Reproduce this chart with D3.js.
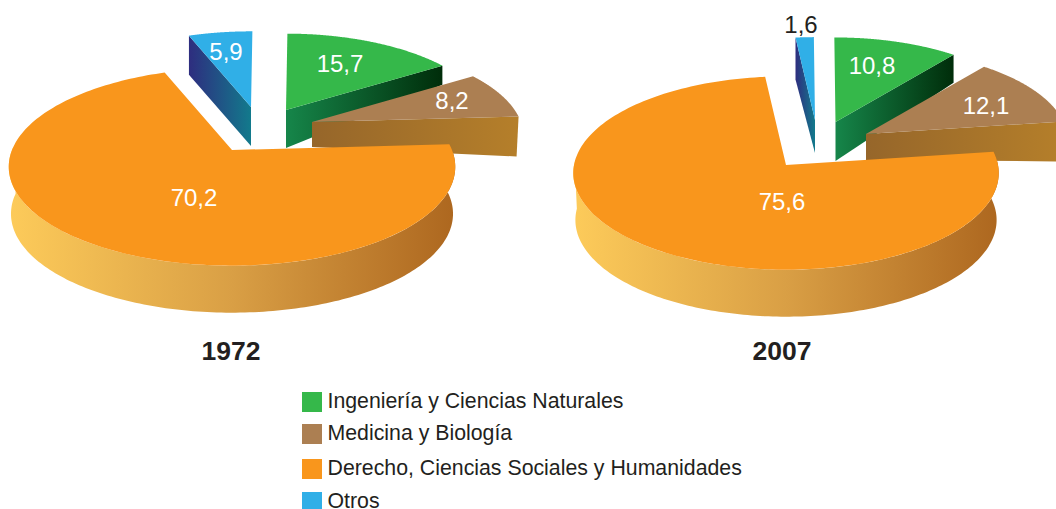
<!DOCTYPE html>
<html lang="es">
  <head>
    <meta charset="UTF-8" />
    <title>1972 - 2007</title>
    <script src="https://d3js.org/d3.v7.min.js"></script>
    <style>
      html, body {
        margin: 0;
        background: #fff;
        overflow: hidden;
      }
      svg {
        display: block;
        font-family: "Liberation Sans", Arial, sans-serif;
      }
      .value { font-size: 24px; text-anchor: middle; fill: #fff; }
      .year { font-size: 26.5px; font-weight: bold; text-anchor: middle; fill: #231f20; }
      .legend-label { font-size: 21.3px; fill: #231f20; }
    </style>
  </head>
  <body>
    <svg id="chart" width="1056" height="509"></svg>

    <script>
      const categories = [
        "Ingeniería y Ciencias Naturales",
        "Medicina y Biología",
        "Derecho, Ciencias Sociales y Humanidades",
        "Otros",
      ];
      const years = [1972, 2007];
      const values1972 = [15.7, 8.2, 70.2, 5.9];
      const values2007 = [10.8, 12.1, 75.6, 1.6];

      const colors = ["#35b84a", "#ac7f52", "#f9961c", "#30afe7"];
      // side faces, left to right
      const wallColors = [
        ["#16864a", "#002d0a"],
        ["#96662a", "#b57f2a"],
        ["#fdcb5a", "#d99f45", "#ad671f"],
        ["#2e2d7f", "#127a8c"],
      ];

      // the pie runs orange, blue, green, brown clockwise, painted back to front
      const pieOrder = [2, 3, 0, 1];
      const paintOrder = [3, 0, 1, 2];
      const rad = Math.PI / 180;

      // layout of each pie: apex, radii, perspective, start angle
      const layouts = [
        {
          values: values1972, cx: 232, cy: 150, R: 220, S: 96, k: 0.17, start: 86.5,
          yearX: 231, depth: 47,
          slices: {
            0: { dx: 54, dy: -40, r: 0.92, depth: [38, 19], label: [54, -46] },
            1: { dx: 80, dy: -28, r: 0.95, depth: [25, 40], inset: 2, label: [140, -21] },
            2: { dx: 0, dy: 0, r: 1, label: [-38, 48] },
            3: { dx: 19, dy: -43, r: 0.91, depth: [39, 39], label: [-25, -55] },
          },
        },
        {
          values: values2007, cx: 786, cy: 165, R: 212, S: 96, k: 0.083, start: 82,
          yearX: 782, depth: 47,
          slices: {
            0: { dx: 49.5, dy: -43, r: 0.95, depth: [39, 28], label: [36.5, -56] },
            1: { dx: 80, dy: -31, r: 0.95, depth: [26, 40], inset: 2, label: [120, -28] },
            2: { dx: 0, dy: 0, r: 1, label: [-4, 37] },
            3: { dx: 29, dy: -45, r: 0.93, depth: [33, 42], label: [-14, -95] },
          },
        },
      ];

      const svg = d3.select("#chart");
      const defs = svg.append("defs");
      const line = d3.line();

      function addGradient(id, stops) {
        const g = defs.append("linearGradient").attr("id", id);
        stops.forEach((c, i) => {
          g.append("stop")
            .attr("offset", i / (stops.length - 1))
            .attr("stop-color", c);
        });
      }
      wallColors.forEach((stops, i) => addGradient("wall" + i, stops));

      const pie = d3.pie().sort(null).value((d) => d);

      layouts.forEach((p) => {
        const ordered = pieOrder.map((i) => p.values[i]);
        const startAngle = p.start * rad;
        pie.startAngle(startAngle).endAngle(startAngle + 2 * Math.PI);
        const arcs = pie(ordered);

        // angle on the disc -> position on the page, relative to the apex
        const project = (angle, r) => {
          const u = r * Math.sin(angle);
          const v = -r * Math.cos(angle);
          const w = 1 - p.k * v;
          return [(p.R * u) / w, (p.S * v) / w];
        };

        const g = svg.append("g").attr("transform", `translate(${p.cx},${p.cy})`);

        paintOrder.forEach((cat) => {
          const a = arcs[pieOrder.indexOf(cat)];
          const s = p.slices[cat];
          const sg = g.append("g").attr("transform", `translate(${s.dx},${s.dy})`);
          const rim = d3
            .range(0, 181)
            .map((t) => project(a.startAngle + ((a.endAngle - a.startAngle) * t) / 180, s.r));

          if (cat === 2) {
            // curved front wall of the big slice
            const wallEnd = 272 * rad;
            const top = d3
              .range(0, 181)
              .map((t) => project(a.startAngle + ((wallEnd - a.startAngle) * t) / 180, 1));
            const bottom = top
              .map(([x, y]) => [x * 0.99, y + p.depth])
              .reverse();
            sg.append("path")
              .attr("d", line(top.concat(bottom)) + "Z")
              .attr("fill", `url(#wall${cat})`);
          } else {
            // flat cut face of the pulled out slices
            const end = cat === 3 ? rim[0] : rim[rim.length - 1];
            sg.append("path")
              .attr(
                "d",
                line([
                  [0, 0],
                  end,
                  [end[0] - (s.inset || 0), end[1] + s.depth[1]],
                  [0, s.depth[0]],
                ]) + "Z"
              )
              .attr("fill", `url(#wall${cat})`);
          }

          sg.append("path")
            .attr("d", line([[0, 0], ...rim]) + "Z")
            .attr("fill", colors[cat]);
        });

        // values on top of every slice
        categories.forEach((c, cat) => {
          const s = p.slices[cat];
          const inside = p.values[cat] > 2;
          g.append("text")
            .attr("class", "value")
            .attr("x", s.dx + s.label[0])
            .attr("y", s.dy + s.label[1] + 8)
            .style("fill", inside ? null : "#231f20")
            .text(String(p.values[cat]).replace(".", ","));
        });
      });

      svg
        .selectAll(".year")
        .data(layouts)
        .enter()
        .append("text")
        .attr("class", "year")
        .attr("x", (d) => d.yearX)
        .attr("y", 360)
        .text((d, i) => years[i]);

      // legend rows are not evenly spaced in the original
      const legendY = d3
        .scaleOrdinal()
        .domain(categories)
        .range([392, 424, 459, 492]);

      const legend = svg
        .selectAll(".legend")
        .data(categories)
        .enter()
        .append("g")
        .attr("class", "legend")
        .attr("transform", (d) => `translate(302,${legendY(d)})`);

      legend
        .append("rect")
        .attr("width", 20)
        .attr("height", 20)
        .attr("fill", (d, i) => colors[i]);

      legend
        .append("text")
        .attr("class", "legend-label")
        .attr("x", 25.5)
        .attr("y", 16)
        .text((d) => d);
    </script>
  </body>
</html>
